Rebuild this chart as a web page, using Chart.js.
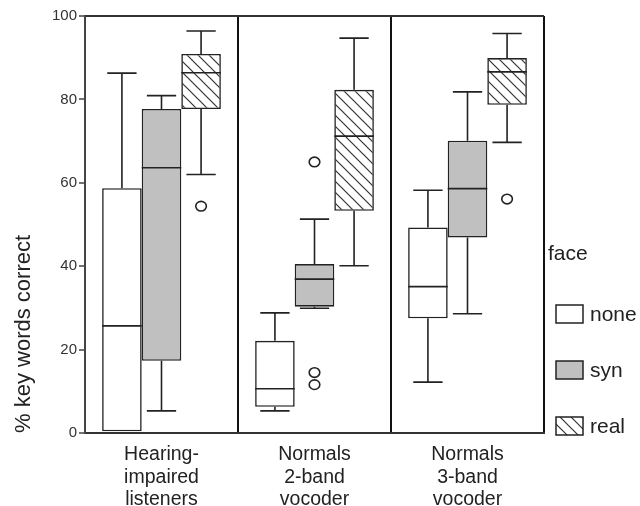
<!DOCTYPE html>
<html><head><meta charset="utf-8">
<script src="https://cdn.jsdelivr.net/npm/chart.js@4.4.1/dist/chart.umd.min.js"></script>
<style>html,body{margin:0;padding:0;background:#fff}</style>
</head><body>
<canvas id="c" width="640" height="506"></canvas>
<script>
// ---- data ----
const categories = [['Hearing-','impaired','listeners'],['Normals','2-band','vocoder'],['Normals','3-band','vocoder']];
const seriesNames = ['none','syn','real'];
const legendTitle = 'face';
const yTitle = '% key words correct';
const yTicks = [0,20,40,60,80,100];

const noneMin    = [0.4, 5.3, 12.2];
const noneQ1     = [0.4, 6.3, 27.5];
const noneMedian = [25.7, 10.6, 35.1];
const noneQ3     = [58.7, 22.1, 49.3];
const noneMax    = [86.3, 28.8, 58.2];

const synMin    = [5.3, 29.9, 28.6];
const synQ1     = [17.3, 30.3, 46.9];
const synMedian = [63.6, 36.9, 58.6];
const synQ3     = [77.7, 40.5, 70.1];
const synMax    = [80.9, 51.3, 81.8];

const realMin    = [62.0, 40.1, 69.7];
const realQ1     = [77.7, 53.3, 78.7];
const realMedian = [86.4, 71.2, 86.6];
const realQ3     = [90.9, 82.3, 89.9];
const realMax    = [96.4, 94.7, 95.8];

const outlierGroup  = [0, 1, 1, 1, 2];
const outlierSeries = [2, 0, 0, 1, 1];
const outlierValue  = [54.4, 14.5, 11.6, 65.0, 56.1];

// ---- styling ----
const FONT = "'Liberation Sans', Arial, Helvetica, sans-serif";
const INK = '#222';
const outlierSlot = [0, 1, 1, 0, 1]; // horizontal slot in which each outlier glyph is drawn

function makeHatch(){
  const s = 11;
  const c = document.createElement('canvas'); c.width = s; c.height = s;
  const g = c.getContext('2d');
  g.fillStyle = '#fff'; g.fillRect(0,0,s,s);
  g.strokeStyle = '#333'; g.lineWidth = 1.2;
  g.beginPath();
  g.moveTo(-1,-1); g.lineTo(s+1,s+1);
  g.moveTo(-1,s-1); g.lineTo(1,s+1);
  g.moveTo(s-1,-1); g.lineTo(s+1,1);
  g.stroke();
  return g.createPattern(c,'repeat');
}
const hatch = makeHatch();
const fills = ['#ffffff', '#c0c0c0', hatch];

const stats = [
  {min:noneMin, q1:noneQ1, med:noneMedian, q3:noneQ3, max:noneMax},
  {min:synMin,  q1:synQ1,  med:synMedian,  q3:synQ3,  max:synMax},
  {min:realMin, q1:realQ1, med:realMedian, q3:realQ3, max:realMax}
];

const datasets = stats.map((s,i) => ({
  label: seriesNames[i],
  data: s.q1.map((v,j) => [v, s.q3[j]]),
  backgroundColor: fills[i],
  borderColor: INK,
  borderWidth: 1.6,
  borderSkipped: false,
  categoryPercentage: 0.776,
  barPercentage: 1.0
}));

const boxPlugin = {
  id: 'boxParts',
  afterDatasetsDraw(chart){
    const ctx = chart.ctx;
    const y = chart.scales.y;
    ctx.save();
    ctx.strokeStyle = INK;
    ctx.lineWidth = 1.6;
    stats.forEach((s,i) => {
      const meta = chart.getDatasetMeta(i);
      meta.data.forEach((bar,j) => {
        const x = bar.x, w = bar.width;
        const left = x - w/2, right = x + w/2;
        const cap = w * 0.37;
        const pMed = y.getPixelForValue(s.med[j]);
        const pQ1 = y.getPixelForValue(s.q1[j]);
        const pQ3 = y.getPixelForValue(s.q3[j]);
        const pMin = y.getPixelForValue(s.min[j]);
        const pMax = y.getPixelForValue(s.max[j]);
        ctx.beginPath();
        ctx.moveTo(left, pMed); ctx.lineTo(right, pMed);
        if (pMax < pQ3 - 0.5) {
          ctx.moveTo(x, pQ3); ctx.lineTo(x, pMax);
          ctx.moveTo(x-cap, pMax); ctx.lineTo(x+cap, pMax);
        }
        if (pMin > pQ1 + 0.5) {
          ctx.moveTo(x, pQ1); ctx.lineTo(x, pMin);
          ctx.moveTo(x-cap, pMin); ctx.lineTo(x+cap, pMin);
        }
        ctx.stroke();
      });
    });
    // outliers
    outlierValue.forEach((v,k) => {
      const g = outlierGroup[k];
      const s = outlierSeries[k] + outlierSlot[k];
      const bar = chart.getDatasetMeta(s).data[g];
      const px = bar.x;
      const py = y.getPixelForValue(v);
      ctx.beginPath();
      ctx.ellipse(px, py, 5.3, 4.8, 0, 0, Math.PI*2);
      ctx.stroke();
    });
    ctx.restore();
  },
  afterDraw(chart){
    const ctx = chart.ctx;
    const area = chart.chartArea;
    ctx.save();
    ctx.fillStyle = INK;
    ctx.font = '21px ' + FONT;
    ctx.textBaseline = 'alphabetic';
    ctx.textAlign = 'left';
    const lx = area.right + 4;
    ctx.fillText(legendTitle, lx, 260);
    const boxX = area.right + 12, boxW = 27, boxH = 18;
    const tops = [305, 361, 417];
    seriesNames.forEach((name,i) => {
      ctx.fillStyle = fills[i];
      ctx.fillRect(boxX, tops[i], boxW, boxH);
      ctx.strokeStyle = INK; ctx.lineWidth = 1.5;
      ctx.strokeRect(boxX, tops[i], boxW, boxH);
      ctx.fillStyle = INK;
      ctx.textBaseline = 'middle';
      ctx.fillText(name, boxX + boxW + 7, tops[i] + boxH/2 + 1);
    });
    ctx.restore();
  }
};

new Chart(document.getElementById('c'), {
  type: 'bar',
  data: { labels: categories, datasets },
  options: {
    responsive: false,
    devicePixelRatio: 1,
    animation: false,
    layout: { padding: { top: 16, right: 96, bottom: 0, left: 0 } },
    plugins: { legend: { display: false }, tooltip: { enabled: false } },
    scales: {
      x: {
        offset: true,
        grid: { display: true, offset: true, color: '#111', lineWidth: 2, drawTicks: false },
        border: { display: true, color: '#333', width: 2 },
        ticks: { color: INK, font: { family: FONT, size: 19.5, lineHeight: 1.17 }, padding: 10, maxRotation: 0, autoSkip: false },
        afterFit(scale){ scale.height = 73; }
      },
      y: {
        min: 0, max: 100,
        afterBuildTicks(scale){ scale.ticks = yTicks.map(v => ({value: v})); },
        grid: {
          display: true,
          color: c => (c.tick && c.tick.value === 100) ? '#333' : 'rgba(0,0,0,0)',
          lineWidth: 2, drawTicks: true, tickLength: 6, tickColor: '#444', tickWidth: 1.5
        },
        border: { display: true, color: '#444', width: 2 },
        ticks: { color: '#333', font: { family: FONT, size: 15 }, padding: 2 },
        title: { display: true, text: yTitle, align: 'start', color: INK, font: { family: FONT, size: 22, lineHeight: 1.2 }, padding: { top: 11, bottom: 0 } },
        afterFit(scale){ scale.width = 85; }
      }
    }
  },
  plugins: [boxPlugin]
});
</script>
</body></html>
